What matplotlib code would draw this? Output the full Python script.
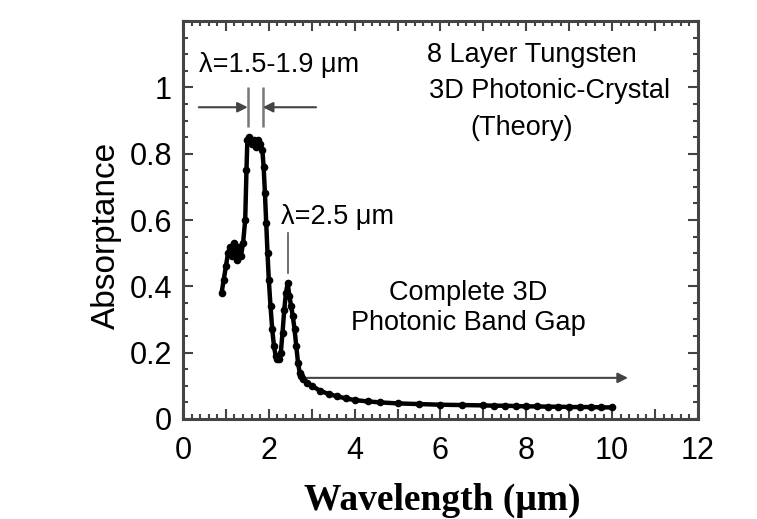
import matplotlib.pyplot as plt
from matplotlib.ticker import MultipleLocator, FixedLocator

# Absorptance of 8 layer tungsten 3D photonic crystal
wavelength = [0.90, 0.95, 1.00, 1.05, 1.10, 1.15, 1.20, 1.25, 1.30, 1.35,
              1.40, 1.45, 1.48, 1.50, 1.55, 1.60, 1.65, 1.70, 1.75, 1.80,
              1.85, 1.88, 1.91, 1.94, 1.97, 2.00, 2.04, 2.08, 2.12, 2.16,
              2.20, 2.24, 2.28, 2.32, 2.36, 2.40, 2.44, 2.48, 2.52, 2.56,
              2.60, 2.64, 2.68, 2.72, 2.76, 2.80, 2.90, 3.00, 3.20, 3.40,
              3.60, 3.80, 4.00, 4.30, 4.60, 5.00, 5.50, 6.00, 6.50, 7.00,
              7.25, 7.50, 7.75, 8.00, 8.25, 8.50, 8.75, 9.00, 9.25, 9.50,
              9.75, 10.00]
absorptance = [0.38, 0.42, 0.46, 0.50, 0.52, 0.49, 0.53, 0.48, 0.52, 0.49,
               0.53, 0.60, 0.75, 0.84, 0.85, 0.83, 0.84, 0.82, 0.84, 0.83,
               0.81, 0.76, 0.68, 0.59, 0.50, 0.42, 0.34, 0.27, 0.22, 0.19,
               0.18, 0.18, 0.20, 0.26, 0.33, 0.38, 0.41, 0.37, 0.34, 0.31,
               0.27, 0.22, 0.17, 0.14, 0.13, 0.12, 0.11, 0.10, 0.085, 0.075,
               0.068, 0.062, 0.057, 0.053, 0.050, 0.047, 0.045, 0.043, 0.042, 0.041,
               0.040, 0.040, 0.039, 0.038, 0.038, 0.037, 0.037, 0.036, 0.036, 0.036,
               0.035, 0.035]

xtick_labels = ['0', '', '2', '', '4', '', '6', '', '8', '', '10', '', '12']
ytick_vals = [0, 0.2, 0.4, 0.6, 0.8, 1.0]
ytick_labels = ['0', '0.2', '0.4', '0.6', '0.8', '1']

sans = ['Liberation Sans', 'DejaVu Sans']
plt.rcParams['font.family'] = sans

fig = plt.figure(figsize=(7.57, 5.19), dpi=100)
ax = fig.add_axes([0.2417, 0.1927, 0.922 - 0.2417, 0.9595 - 0.1927])

ax.plot(wavelength, absorptance, color='black', lw=3.2, marker='o',
        markersize=5.5, markeredgewidth=0)

ax.set_xlim(0, 12)
ax.set_ylim(0, 1.2)

ax.set_xticks(range(13))
ax.set_xticklabels(xtick_labels)
ax.xaxis.set_minor_locator(MultipleLocator(0.2))
ax.yaxis.set_major_locator(FixedLocator(ytick_vals))
ax.set_yticklabels(ytick_labels)
ax.yaxis.set_minor_locator(MultipleLocator(0.05))

ax.tick_params(which='both', direction='in', top=True, right=True,
               color='#444444', width=1.5)
ax.tick_params(which='major', length=7, labelsize=22)
ax.tick_params(which='minor', length=3.5)
ax.tick_params(axis='x', pad=12)
ax.tick_params(axis='y', pad=8)
for s in ax.spines.values():
    s.set_linewidth(2.2)
    s.set_color('#444444')

ax.set_ylabel('Absorptance', fontsize=24)
ax.yaxis.set_label_coords(-0.118, 0.46)
ax.set_xlabel('Wavelength (\u03bcm)', fontsize=27,
              family=['Liberation Serif', 'DejaVu Serif'], fontweight='bold')
ax.xaxis.set_label_coords(0.503, -0.16)

arrow = dict(arrowstyle='-|>', color='#444444', lw=1.5,
             mutation_scale=15, shrinkA=0, shrinkB=0)

# annotations
ax.text(2.24, 1.067, '\u03bb=1.5-1.9 \u03bcm', fontsize=19.5, ha='center', va='center')
ax.vlines([1.51, 1.86], 0.88, 1.0, color='#777777', lw=1.8)
ax.annotate('', xy=(1.51, 0.94), xytext=(0.37, 0.94), arrowprops=arrow)
ax.annotate('', xy=(1.86, 0.94), xytext=(3.1, 0.94), arrowprops=arrow)

ax.text(3.6, 0.61, '\u03bb=2.5 \u03bcm', fontsize=19.5, ha='center', va='center')
ax.plot([2.45, 2.45], [0.44, 0.56], color='#555555', lw=1.2)

ax.text(8.14, 1.097, '8 Layer Tungsten', fontsize=19.5, ha='center', va='center')
ax.text(8.55, 0.988, '3D Photonic-Crystal', fontsize=19.5, ha='center', va='center')
ax.text(7.9, 0.876, '(Theory)', fontsize=19.5, ha='center', va='center')

ax.text(6.65, 0.38, 'Complete 3D', fontsize=19.5, ha='center', va='center')
ax.text(6.65, 0.29, 'Photonic Band Gap', fontsize=19.5, ha='center', va='center')
ax.annotate('', xy=(10.37, 0.124), xytext=(2.9, 0.124), arrowprops=arrow)

fig.savefig('out.png', dpi=100)
